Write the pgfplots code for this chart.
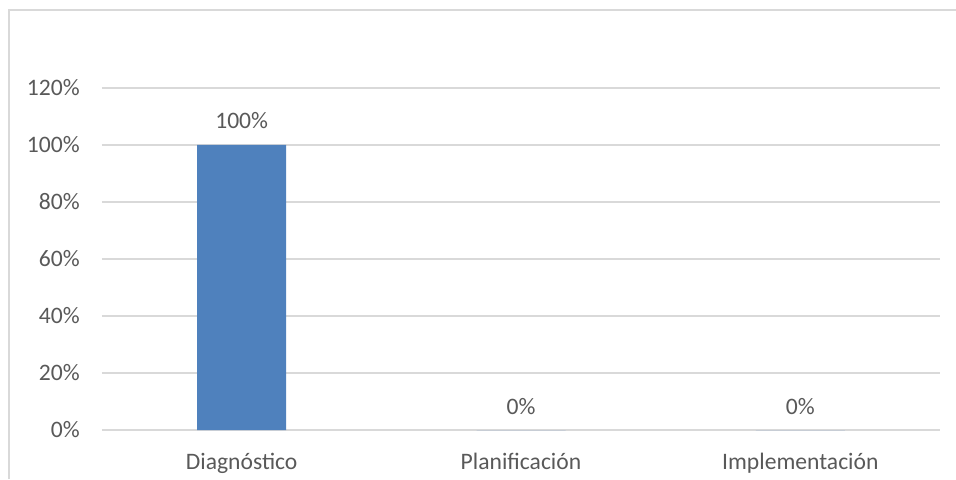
\documentclass[border=0pt]{standalone}
\usepackage{pgfplots}
\pgfplotsset{compat=1.18}
\usepackage{fontspec}
\setmainfont{Carlito}
\definecolor{gridc}{HTML}{D9D9D9}
\definecolor{txt}{HTML}{595959}
\definecolor{barc}{HTML}{4F81BD}
\begin{document}
\begin{tikzpicture}
\path[use as bounding box] (0,0) rectangle (717pt,359.25pt);
\draw[gridc, line width=0.9pt] (6.75pt,0) -- (6.75pt,351.75pt) -- (717pt,351.75pt);
\begin{axis}[
  at={(76.5pt,36.75pt)}, anchor=south west,
  width=628.5pt, height=256.5pt, scale only axis,
  xmin=-0.5, xmax=2.5, ymin=0, ymax=120,
  xtick={0,1,2}, xticklabels={Diagnóstico,Planificación,Implementación},
  ytick={0,20,40,60,80,100,120},
  yticklabels={0\%,20\%,40\%,60\%,80\%,100\%,120\%},
  ymajorgrids, grid style={gridc, line width=1pt},
  axis line style={draw=none},
  major tick length=0pt,
  tick label style={font=\fontsize{17.7pt}{20pt}\selectfont, text=txt},
  yticklabel style={anchor=east, inner sep=0pt, xshift=-16.5pt},
  xticklabel style={anchor=base, inner sep=0pt, yshift=-29.25pt},
  ybar, bar width=66.75pt,
  nodes near coords={\pgfmathprintnumber[assume math mode=true]{\pgfplotspointmeta}\%},
  nodes near coords style={font=\fontsize{17.7pt}{20pt}\selectfont, text=txt, anchor=base, inner sep=0pt, yshift=12pt},
  clip=false,
]
\addplot[fill=barc, draw=none] coordinates {(0,100) (1,0) (2,0)};
\end{axis}
\end{tikzpicture}
\end{document}
